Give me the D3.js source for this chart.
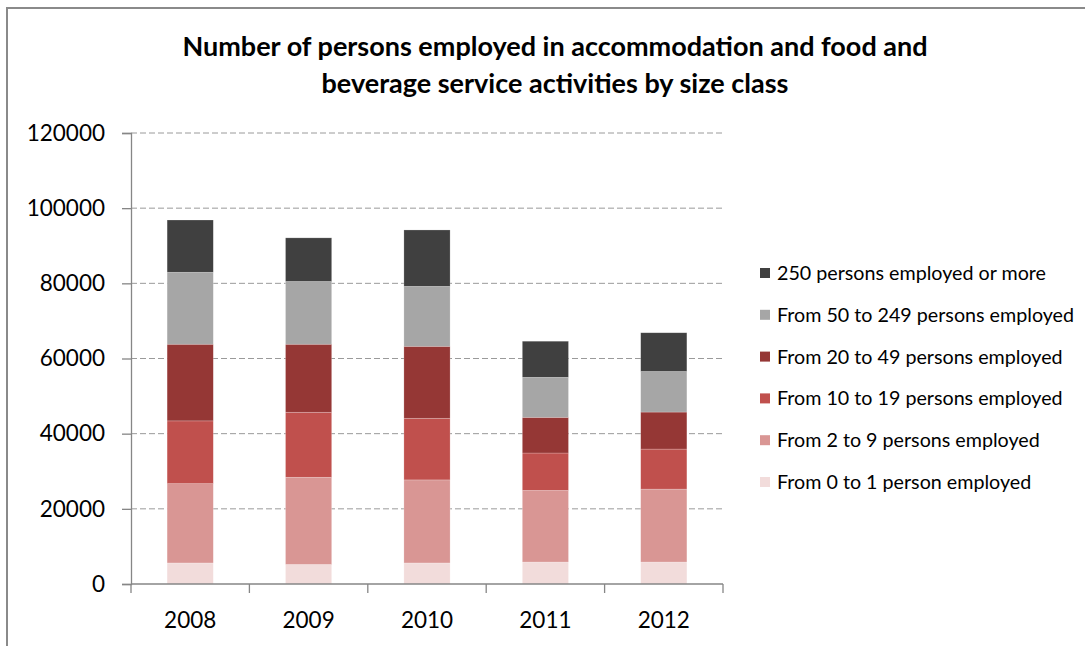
<!DOCTYPE html>
<html>
<head>
<meta charset="utf-8">
<script src="https://cdn.jsdelivr.net/npm/d3@7"></script>
<style>
  html, body { margin: 0; padding: 0; background: #fff; }
  svg { display: block; }
  text { font-family: Lato, "Open Sans", sans-serif; fill: #000; }
</style>
</head>
<body>
<svg id="chart" width="1085" height="646"></svg>
<script>
// Years on the category axis
const years = ["2008", "2009", "2010", "2011", "2012"];

// Persons employed per enterprise size class, one value per year
const size0to1   = [5600, 5200, 5600, 5850, 5850];
const size2to9   = [21100, 23200, 22100, 19050, 19400];
const size10to19 = [16700, 17300, 16400, 9950, 10650];
const size20to49 = [20400, 18100, 19150, 9500, 9850];
const size50to249 = [19150, 16700, 15950, 10650, 10800];
const size250plus = [13900, 11600, 15000, 9600, 10300];

const seriesNames = [
  "From 0 to 1 person employed",
  "From 2 to 9 persons employed",
  "From 10 to 19 persons employed",
  "From 20 to 49 persons employed",
  "From 50 to 249 persons employed",
  "250 persons employed or more"
];
const seriesColors = ["#f2dcdb", "#d99694", "#c0504d", "#953735", "#a6a6a6", "#404040"];
const seriesValues = [size0to1, size2to9, size10to19, size20to49, size50to249, size250plus];

const yTicks = [0, 20000, 40000, 60000, 80000, 100000, 120000];

// Build a row per year for d3.stack
const keys = seriesNames;
const rows = years.map((yr, i) => {
  const r = { year: yr };
  keys.forEach((k, j) => { r[k] = seriesValues[j][i]; });
  return r;
});

const svg = d3.select("#chart");
svg.append("rect").attr("width", 1085).attr("height", 646).attr("fill", "#fff");

// Chart area frame
svg.append("rect")
  .attr("x", 7).attr("y", 8)
  .attr("width", 1200).attr("height", 800)
  .attr("fill", "none").attr("stroke", "#8a8a8a").attr("stroke-width", 2);

const plot = { left: 131, right: 723, top: 133, bottom: 584 };

const x = d3.scaleBand()
  .domain(years)
  .range([plot.left, plot.right])
  .paddingInner(0.61)
  .paddingOuter(0.305);

const y = d3.scaleLinear()
  .domain([0, 120000])
  .range([plot.bottom, plot.top]);

// Horizontal dashed gridlines
svg.append("g")
  .selectAll("line")
  .data(yTicks.filter(d => d > 0))
  .join("line")
  .attr("x1", plot.left).attr("x2", plot.right)
  .attr("y1", d => y(d)).attr("y2", d => y(d))
  .attr("stroke", "#9a9a9a")
  .attr("stroke-width", 1)
  .attr("stroke-dasharray", "6,3");

// Stacked bars
const stacked = d3.stack().keys(keys)(rows);
svg.append("g")
  .selectAll("g")
  .data(stacked)
  .join("g")
  .attr("fill", (d, i) => seriesColors[i])
  .selectAll("rect")
  .data(d => d)
  .join("rect")
  .attr("x", d => x(d.data.year))
  .attr("width", x.bandwidth())
  .attr("y", d => y(d[1]))
  .attr("height", d => y(d[0]) - y(d[1]))
  .attr("stroke", "rgba(255,255,255,0.35)")
  .attr("stroke-width", 0.6);

// Y axis
const yAxis = d3.axisLeft(y).tickValues(yTicks).tickSize(9).tickPadding(17).tickFormat(d3.format("d"));
const gy = svg.append("g").attr("transform", `translate(${plot.left},0)`).call(yAxis);
gy.select(".domain").attr("stroke", "#868686").attr("stroke-width", 1.3);
gy.selectAll(".tick line").attr("stroke", "#868686").attr("stroke-width", 1.3);
gy.selectAll(".tick text").attr("font-size", 22.5).attr("fill", "#000")
  .style("font-family", "Lato, 'Open Sans', sans-serif");

// X axis: ticks at category boundaries
const gx = svg.append("g").attr("transform", `translate(0,${plot.bottom})`);
gx.append("line")
  .attr("x1", plot.left).attr("x2", plot.right)
  .attr("stroke", "#868686").attr("stroke-width", 1.3);
const bounds = years.map(yr => x(yr) - (x.step() - x.bandwidth()) / 2);
bounds.push(plot.right);
gx.selectAll("line.tk")
  .data(bounds)
  .join("line")
  .attr("class", "tk")
  .attr("x1", d => d).attr("x2", d => d)
  .attr("y1", 0).attr("y2", 9)
  .attr("stroke", "#868686").attr("stroke-width", 1.3);
gx.selectAll("text")
  .data(years)
  .join("text")
  .attr("x", d => x(d) + x.bandwidth() / 2)
  .attr("y", 44)
  .attr("text-anchor", "middle")
  .attr("font-size", 22.5)
  .text(d => d);

// Title
const title = svg.append("text")
  .attr("x", 555)
  .attr("text-anchor", "middle")
  .attr("font-size", 27)
  .attr("font-weight", "bold");
title.append("tspan").attr("x", 555).attr("y", 56)
  .text("Number of persons employed in accommodation and food and");
title.append("tspan").attr("x", 555).attr("y", 93)
  .text("beverage service activities by size class");

// Legend, largest size class first
const legendItems = d3.range(keys.length).reverse();
const legend = svg.append("g")
  .selectAll("g")
  .data(legendItems)
  .join("g")
  .attr("transform", (d, i) => `translate(760,${273 + i * 41.8})`);
legend.append("rect")
  .attr("x", 0).attr("y", -5)
  .attr("width", 10).attr("height", 10)
  .attr("fill", d => seriesColors[d]);
legend.append("text")
  .attr("x", 17).attr("y", 7)
  .attr("font-size", 19.7)
  .attr("fill", "#222")
  .text(d => seriesNames[d]);
</script>
</body>
</html>
